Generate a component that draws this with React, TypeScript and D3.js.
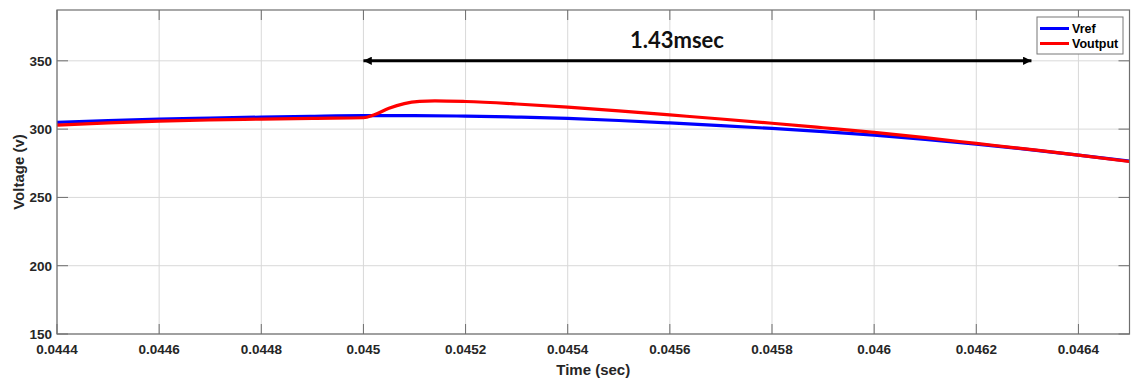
import React from "react";
import * as d3 from "d3";

const xTicks = [0.0444, 0.0446, 0.0448, 0.045, 0.0452, 0.0454, 0.0456, 0.0458, 0.046, 0.0462, 0.0464];
const xTickLabels = ["0.0444", "0.0446", "0.0448", "0.045", "0.0452", "0.0454", "0.0456", "0.0458", "0.046", "0.0462", "0.0464"];
const yTicks = [150, 200, 250, 300, 350];
const yTickLabels = ["150", "200", "250", "300", "350"];

const vrefT = [0.0444, 0.0445, 0.0446, 0.0447, 0.0448, 0.0449, 0.045, 0.0451, 0.0452, 0.0453, 0.0454, 0.0455, 0.0456, 0.0457, 0.0458, 0.0459, 0.046, 0.0461, 0.0462, 0.0463, 0.0464, 0.0465];
const vrefV = [305.0, 306.3, 307.3, 308.1, 308.8, 309.4, 309.8, 309.8, 309.5, 308.8, 307.8, 306.3, 304.5, 302.6, 300.5, 298.2, 295.6, 292.5, 289.0, 285.2, 281.0, 276.5];

const voutT = [0.0444, 0.0445, 0.0446, 0.0447, 0.0448, 0.0449, 0.045, 0.04502, 0.04505, 0.04508, 0.04511, 0.04514, 0.0452, 0.0453, 0.0454, 0.0455, 0.0456, 0.0457, 0.0458, 0.0459, 0.046, 0.0461, 0.0462, 0.0463, 0.0464, 0.0465];
const voutV = [302.9, 304.5, 305.8, 306.7, 307.3, 307.9, 308.3, 310.3, 315.3, 318.7, 320.3, 320.7, 320.2, 318.4, 316.1, 313.4, 310.4, 307.4, 304.3, 301.0, 297.6, 293.7, 289.5, 285.3, 281.0, 276.3];

const seriesNames = ["Vref", "Voutput"];
const seriesColors = ["#0000ff", "#ff0000"];

const annotation = { from: 0.045, to: 0.046308, level: 350, label: "1.43msec" };

const W = 1132;
const H = 381;
const L = 57, R = 1129.5, T = 10, B = 334;

export default function App() {
  const x = d3.scaleLinear().domain([0.0444, 0.0465]).range([L, R]);
  const y = d3.scaleLinear().domain([150, 387.2]).range([B, T]);
  const line = d3
    .line<[number, number]>()
    .x((d) => x(d[0]))
    .y((d) => y(d[1]))
    .curve(d3.curveMonotoneX);
  const vref = vrefT.map((t, i) => [t, vrefV[i]] as [number, number]);
  const vout = voutT.map((t, i) => [t, voutV[i]] as [number, number]);
  const tickFont = { fontFamily: "'Liberation Sans', Arial, sans-serif", fontWeight: 700, fontSize: 13.5, fill: "#262626" };
  const axisColor = "#6e6e6e";
  const gridColor = "#d9d9d9";
  const ax1 = x(annotation.from);
  const ax2 = x(annotation.to);
  const ay = y(annotation.level);

  return (
    <svg width={W} height={H} style={{ position: "absolute", left: 0, top: 0, background: "#fff" }}>
      <rect x={0} y={0} width={W} height={H} fill="#fff" />
      {/* grid */}
      {xTicks.map((t, i) => (
        <line key={"gx" + i} x1={x(t)} x2={x(t)} y1={T} y2={B} stroke={gridColor} strokeWidth={1} />
      ))}
      {yTicks.map((v, i) => (
        <line key={"gy" + i} x1={L} x2={R} y1={y(v)} y2={y(v)} stroke={gridColor} strokeWidth={1} />
      ))}
      {/* ticks */}
      {xTicks.map((t, i) => (
        <g key={"tx" + i}>
          <line x1={x(t)} x2={x(t)} y1={B} y2={B - 10} stroke={axisColor} strokeWidth={1} />
          <line x1={x(t)} x2={x(t)} y1={T} y2={T + 10} stroke={axisColor} strokeWidth={1} />
        </g>
      ))}
      {yTicks.map((v, i) => (
        <g key={"ty" + i}>
          <line x1={L} x2={L + 11} y1={y(v)} y2={y(v)} stroke={axisColor} strokeWidth={1} />
          <line x1={R} x2={R - 11} y1={y(v)} y2={y(v)} stroke={axisColor} strokeWidth={1} />
        </g>
      ))}
      {/* curves */}
      <path d={line(vref) || ""} fill="none" stroke={seriesColors[0]} strokeWidth={3.2} />
      <path d={line(vout) || ""} fill="none" stroke={seriesColors[1]} strokeWidth={3.2} />
      {/* box */}
      <rect x={L} y={T} width={R - L} height={B - T} fill="none" stroke={axisColor} strokeWidth={1.2} />
      {/* tick labels */}
      {xTicks.map((t, i) => (
        <text key={"lx" + i} x={x(t)} y={354} textAnchor="middle" {...tickFont}>
          {xTickLabels[i]}
        </text>
      ))}
      {yTicks.map((v, i) => (
        <text key={"ly" + i} x={52} y={y(v) + 5} textAnchor="end" {...tickFont}>
          {yTickLabels[i]}
        </text>
      ))}
      {/* axis labels */}
      <text x={(L + R) / 2} y={375} textAnchor="middle" {...tickFont} fontSize={15}>
        Time (sec)
      </text>
      <text
        transform={`translate(23.5, 172) rotate(-90)`}
        textAnchor="middle"
        {...tickFont}
        fontSize={15}
      >
        Voltage (v)
      </text>
      {/* annotation arrow */}
      <defs>
        <marker id="ah" viewBox="0 0 10 10" refX={10} refY={5} markerWidth={3.2} markerHeight={2.8} orient="auto-start-reverse" markerUnits="strokeWidth">
          <path d="M0,0 L10,5 L0,10 z" fill="#000" />
        </marker>
      </defs>
      <line x1={ax1} x2={ax2} y1={ay} y2={ay} stroke="#000" strokeWidth={3} markerStart="url(#ah)" markerEnd="url(#ah)" />
      <text x={677} y={48} textAnchor="middle" fontFamily="Lato, 'Open Sans', sans-serif" fontWeight={700} fontSize={22} fill="#111">
        {annotation.label}
      </text>
      {/* legend */}
      <rect x={1037} y={17} width={86} height={37} fill="#fff" stroke="#777" strokeWidth={1} />
      {seriesNames.map((n, i) => (
        <g key={"lg" + i}>
          <line x1={1040} x2={1069} y1={28.5 + i * 15} y2={28.5 + i * 15} stroke={seriesColors[i]} strokeWidth={3} />
          <text x={1072} y={33 + i * 15} fontFamily="'Liberation Sans', Arial, sans-serif" fontWeight={700} fontSize={12.5} fill="#000">
            {n}
          </text>
        </g>
      ))}
    </svg>
  );
}
